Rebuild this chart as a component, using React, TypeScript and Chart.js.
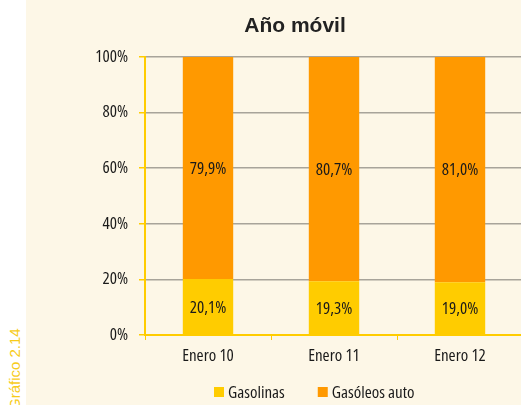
import React, { useEffect, useRef } from "react";
import { Chart, registerables } from "chart.js";

Chart.register(...registerables);

const categories = ["Enero 10", "Enero 11", "Enero 12"];
const seriesNames = ["Gasolinas", "Gasóleos auto"];
const gasolinas = [20.1, 19.3, 19.0];
const gasoleos = [79.9, 80.7, 81.0];
const yTicks = [0, 20, 40, 60, 80, 100];
const titleText = "Año móvil";
const sideLabel = "Gráfico 2.14";

const YELLOW = "#FFCC00";
const ORANGE = "#FF9900";
const CREAM = "#FDF7E7";
const FAMILY = '"Open Sans", sans-serif';
const STRETCH = "condensed";
const FS = 17;

const fmt = (v: number) => v.toFixed(1).replace(".", ",") + "%";

export default function App() {
  const ref = useRef<HTMLCanvasElement | null>(null);

  useEffect(() => {
    document.body.style.margin = "0";
    const canvas = ref.current!;
    const labelFont = `normal ${STRETCH} ${FS}px ${FAMILY}`;
    const extras = {
      id: "extras",
      afterDatasetsDraw(chart: any) {
        const ctx = chart.ctx;
        ctx.save();
        ctx.font = labelFont;
        ctx.fillStyle = "#1a1a1a";
        ctx.textAlign = "center";
        ctx.textBaseline = "middle";
        chart.data.datasets.forEach((ds: any, di: number) => {
          const meta = chart.getDatasetMeta(di);
          meta.data.forEach((bar: any, i: number) => {
            const y = (bar.y + bar.base) / 2;
            ctx.fillText(fmt(ds.data[i]), bar.x, y + 1);
          });
        });
        ctx.restore();
      },
      afterDraw(chart: any) {
        const ctx = chart.ctx;
        ctx.save();
        ctx.font = 'bold 21px "Liberation Sans", Arial, sans-serif';
        ctx.fillStyle = "#222222";
        ctx.textAlign = "center";
        ctx.textBaseline = "alphabetic";
        ctx.fillText(titleText, 269, 32);
        ctx.font = labelFont;
        ctx.textBaseline = "middle";
        ctx.textAlign = "left";
        let x = 188;
        const y = 392;
        chart.data.datasets.forEach((ds: any) => {
          ctx.fillStyle = ds.backgroundColor;
          ctx.fillRect(x, y - 5, 10, 10);
          ctx.fillStyle = "#1a1a1a";
          ctx.fillText(ds.label, x + 14, y + 1);
          x += 14 + ctx.measureText(ds.label).width + 33;
        });
        ctx.restore();
      },
    };

    const tickFont = { family: FAMILY, size: FS, weight: STRETCH as any };

    const chart = new Chart(canvas, {
      type: "bar",
      data: {
        labels: categories,
        datasets: [
          { label: seriesNames[0], data: gasolinas, backgroundColor: YELLOW, barPercentage: 0.4, categoryPercentage: 1 },
          { label: seriesNames[1], data: gasoleos, backgroundColor: ORANGE, barPercentage: 0.4, categoryPercentage: 1 },
        ],
      },
      options: {
        animation: false,
        responsive: false,
        maintainAspectRatio: false,
        layout: { padding: { left: 49, right: 3, top: 57, bottom: 30 } },
        plugins: {
          legend: { display: false },
          title: { display: false },
          tooltip: { enabled: false },
        },
        scales: {
          x: {
            stacked: true,
            afterFit: (s: any) => { s.height = 40; },
            grid: {
              offset: true,
              drawOnChartArea: false,
              drawTicks: true,
              tickLength: 5,
              tickColor: YELLOW,
              tickWidth: 1,
            },
            border: { color: YELLOW, width: 2 },
            ticks: {
              padding: 6,
              color: "#1a1a1a",
              font: tickFont,
            },
          },
          y: {
            stacked: true,
            min: 0,
            max: 100,
            afterFit: (s: any) => { s.width = 70; },
            afterBuildTicks: (s: any) => { s.ticks = yTicks.map((v) => ({ value: v })); },
            grid: {
              color: (c: any) => (c.tick && c.tick.value === 0 ? "rgba(0,0,0,0)" : "#A8A49A"),
              lineWidth: 1.5,
              drawTicks: true,
              tickLength: 6,
              tickColor: YELLOW,
            },
            border: { color: YELLOW, width: 2 },
            ticks: {
              padding: 11,
              color: "#1a1a1a",
              font: tickFont,
              callback: (v: any) => v + "%",
            },
          },
        },
      },
      plugins: [extras],
    });
    return () => chart.destroy();
  }, []);

  return (
    <div style={{ position: "fixed", left: 0, top: 0, width: 521, height: 405, overflow: "hidden", background: "#ffffff" }}>
      <div style={{ position: "absolute", left: 26, top: 0, width: 520, height: 405, background: CREAM }} />
      <canvas ref={ref} width={500} height={405} style={{ position: "absolute", left: 26, top: 0, width: 500, height: 405 }} />
      <div
        style={{
          position: "absolute",
          left: 7,
          top: 410,
          transform: "rotate(-90deg)",
          transformOrigin: "0 0",
          fontFamily: '"Liberation Sans", Arial, sans-serif',
          fontSize: 15,
          lineHeight: "16px",
          color: "#F7CB1A",
          whiteSpace: "nowrap",
        }}
      >
        {sideLabel}
      </div>
    </div>
  );
}
